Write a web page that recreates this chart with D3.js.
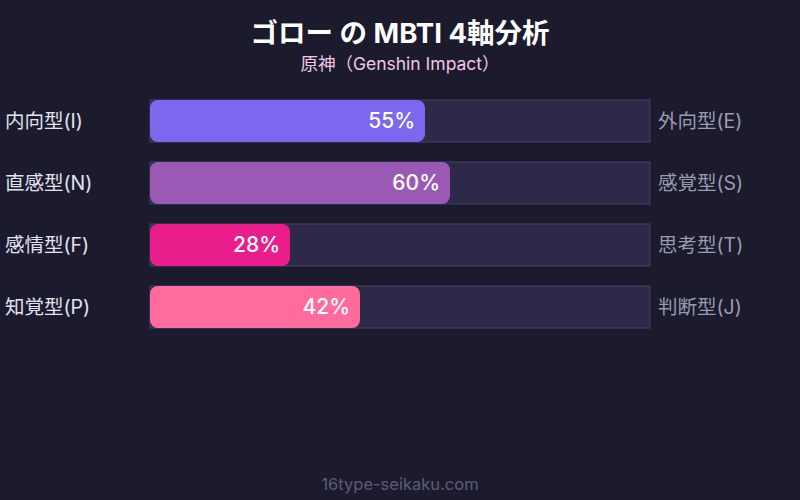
<!DOCTYPE html>
<html><head><meta charset="utf-8">
<script src="https://cdn.jsdelivr.net/npm/d3@7"></script>
<style>body{margin:0;background:#1b1b2d;}svg{display:block;font-family:Inter,"Noto Sans CJK JP",sans-serif;}</style>
</head><body>
<svg id="c" width="800" height="500"></svg>
<script>
const leftLabels = ["内向型(I)", "直感型(N)", "感情型(F)", "知覚型(P)"];
const rightLabels = ["外向型(E)", "感覚型(S)", "思考型(T)", "判断型(J)"];
const values = [55, 60, 28, 42];
const colors = ["#7b68ee", "#9b59b6", "#e91e8c", "#ff6b9d"];

const svg = d3.select("#c");
svg.append("rect").attr("width",800).attr("height",500).attr("fill","#1b1b2d");

svg.append("text").attr("x",400).attr("y",43).attr("text-anchor","middle")
  .attr("fill","#ffffff").attr("font-size",27.5).attr("font-weight","bold").text("ゴロー の MBTI 4軸分析");
svg.append("text").attr("x",400).attr("y",70).attr("text-anchor","middle")
  .attr("fill","#f5c6e6").attr("font-size",17.5).text("原神（Genshin Impact）");

const x = d3.scaleLinear().domain([0,100]).range([150,650]);
const y = d3.scaleBand().domain(d3.range(values.length)).range([100,328]).paddingInner(20/62).paddingOuter(0);
const bh = y.bandwidth();

const g = svg.append("g");
const rows = g.selectAll("g.row").data(values).join("g").attr("class","row");

rows.append("rect").attr("x",x(0)).attr("y",(d,i)=>y(i)).attr("width",x(100)-x(0)).attr("height",bh)
  .attr("fill","#2c2a48").attr("stroke","#43416a").attr("stroke-width",1);
rows.append("rect").attr("x",x(0)).attr("y",(d,i)=>y(i)).attr("width",d=>x(d)-x(0)).attr("height",bh)
  .attr("rx",8).attr("fill",(d,i)=>colors[i]);
rows.append("text").attr("x",d=>x(d)-10).attr("y",(d,i)=>y(i)+bh/2).attr("dy","0.35em")
  .attr("text-anchor","end").attr("fill","#ffffff").attr("font-size",21).attr("font-weight",500)
  .text(d=>d+"%");
rows.append("text").attr("x",5).attr("y",(d,i)=>y(i)+bh/2).attr("dy","0.35em")
  .attr("fill","#e2e2f0").attr("font-size",19.5).attr("font-weight",400).text((d,i)=>leftLabels[i]);
rows.append("text").attr("x",658).attr("y",(d,i)=>y(i)+bh/2).attr("dy","0.35em")
  .attr("fill","#9a9ab2").attr("font-size",19.5).attr("font-weight",400).text((d,i)=>rightLabels[i]);

svg.append("text").attr("x",400).attr("y",490).attr("text-anchor","middle")
  .attr("fill","#5c5b7c").attr("font-size",16.5).text("16type-seikaku.com");
</script>
</body></html>
